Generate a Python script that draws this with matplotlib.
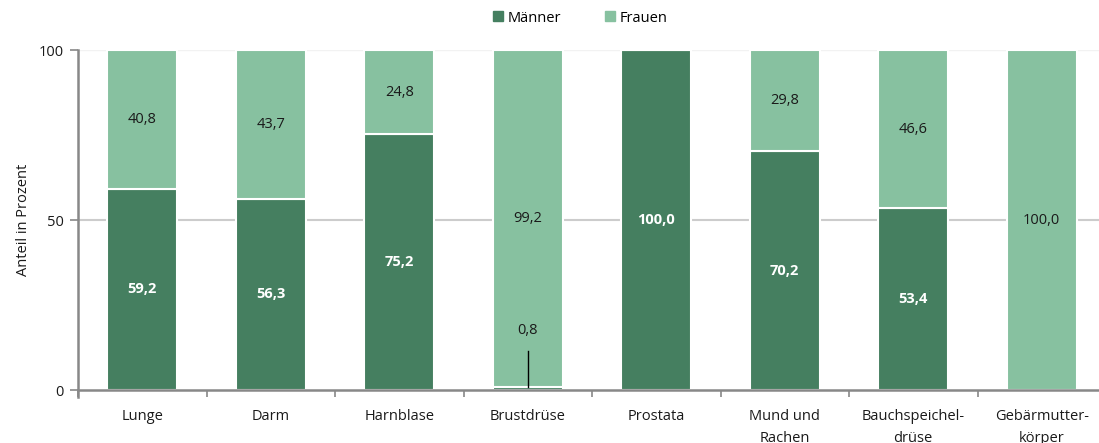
import matplotlib
matplotlib.use("Agg")
import matplotlib.pyplot as plt
from matplotlib.lines import Line2D
import numpy as np

plt.rcParams['font.family'] = ['Open Sans', 'DejaVu Sans']

categories = ["Lunge", "Darm", "Harnblase", "Brustdrüse", "Prostata",
              "Mund und\nRachen", "Bauchspeichel-\ndrüse", "Gebärmutter-\nkörper"]
maenner = [59.2, 56.3, 75.2, 0.8, 100.0, 70.2, 53.4, 0.0]
frauen = [40.8, 43.7, 24.8, 99.2, 0.0, 29.8, 46.6, 100.0]

c_m = "#457f60"
c_f = "#87c1a0"

W, H = 1099, 443
fig = plt.figure(figsize=(W / 100, H / 100), dpi=100)
ax = fig.add_axes([78 / W, 1 - 390 / H, (1106 - 78) / W, (390 - 50) / H])

x = np.arange(len(categories)) + 0.5
bw = 0.545
ax.bar(x, maenner, bw, color=c_m, edgecolor="white", linewidth=1.5, zorder=3, label="Männer")
ax.bar(x, frauen, bw, bottom=maenner, color=c_f, edgecolor="white", linewidth=1.5, zorder=3, label="Frauen")

fmt = lambda v: f"{v:.1f}".replace(".", ",")
for xi, m, f in zip(x, maenner, frauen):
    if m >= 5:
        ax.text(xi, m / 2, fmt(m), ha="center", va="center", color="white",
                fontsize=10.5, fontweight="bold", zorder=5)
    if f > 0:
        ax.text(xi, m + f / 2, fmt(f), ha="center", va="center", color="#1a1a1a",
                fontsize=10.5, zorder=5)

# small men's share in the breast category: label with a leader line
i_small = 3
ax.plot([x[i_small], x[i_small]], [maenner[i_small] + 0.2, 11.5], color="black", lw=1, zorder=6)
ax.text(x[i_small], 17.6, fmt(maenner[i_small]), ha="center", va="center",
        color="#1a1a1a", fontsize=10.5, zorder=6)

ax.set_xlim(0, len(categories))
ax.set_ylim(0, 100)
ax.set_yticks([0, 50, 100])
ax.set_yticklabels(["0", "50", "100"])
ax.axhline(50, color="#cccccc", lw=1.5, zorder=1)
ax.axhline(100, color="#f2f2f2", lw=1, zorder=1)

ax.set_xticks(np.arange(len(categories) + 1))
ax.set_xticklabels([])
ax.set_xticks(x, minor=True)
ax.set_xticklabels(categories, minor=True, fontsize=10.5, color="#1a1a1a", linespacing=1.6)
ax.tick_params(axis="x", which="minor", length=0, pad=14)
ax.tick_params(axis="x", which="major", length=5, color="#888888", width=1.2)
ax.tick_params(axis="y", length=6, color="#888888", width=1.2, labelsize=10.5,
               labelcolor="#1a1a1a", pad=4)

for s in ["top", "right"]:
    ax.spines[s].set_visible(False)
for s in ["left", "bottom"]:
    ax.spines[s].set_color("#888888")
    ax.spines[s].set_linewidth(1.8)
ax.spines["left"].set_bounds(-2, 100)
ax.spines["bottom"].set_zorder(4)

ax.set_ylabel("Anteil in Prozent", fontsize=10.5, color="#1a1a1a", labelpad=6)

handles = [Line2D([], [], marker="s", ls="none", color=c_m, markersize=7),
           Line2D([], [], marker="s", ls="none", color=c_f, markersize=7)]
fig.legend(handles, ["Männer", "Frauen"], loc="center", bbox_to_anchor=(579 / W, 1 - 18 / H),
           ncol=2, frameon=False, fontsize=10.5, handletextpad=0.2, columnspacing=2.8,
           handlelength=1.0)

fig.savefig("out.png", dpi=100)
